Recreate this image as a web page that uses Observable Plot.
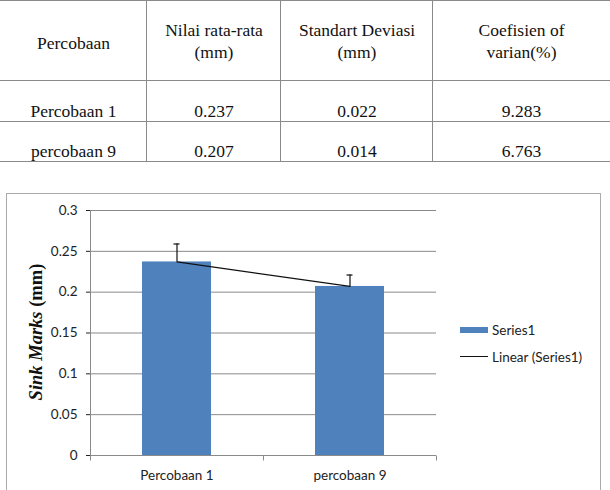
<!DOCTYPE html>
<html><head><meta charset="utf-8">
<script src="https://cdn.jsdelivr.net/npm/d3@7"></script>
<script src="https://cdn.jsdelivr.net/npm/@observablehq/plot@0.6"></script>
<style>
body{margin:0;background:#fff;width:610px;height:490px;overflow:hidden;position:relative;}
.hl{position:absolute;left:0;width:610px;height:0;border-top:1.5px solid #8a8a8a;}
.vl{position:absolute;height:0;width:0;border-left:1.5px solid #8a8a8a;}
.tt{position:absolute;font-family:"Liberation Serif",serif;font-size:17.5px;line-height:20px;height:20px;width:220px;text-align:center;white-space:nowrap;color:#111;}
#chartbox{position:absolute;left:6px;top:193px;width:595px;height:320px;border:1px solid #ababab;box-sizing:border-box;}
#plot{position:absolute;left:0;top:193px;}
#ylab{position:absolute;width:220px;height:20px;line-height:20px;text-align:center;font-family:"Liberation Serif",serif;font-weight:bold;font-size:18.5px;color:#111;transform:rotate(-90deg);white-space:nowrap;}
.lg{position:absolute;font-family:Lato,sans-serif;font-size:13.5px;color:#222;line-height:16px;white-space:nowrap;}
</style></head><body>
<script>
// ---- data ----
const tableHeader = [["Percobaan"], ["Nilai rata-rata", "(mm)"], ["Standart Deviasi", "(mm)"], ["Coefisien of", "varian(%)"]];
const trials = ["Percobaan 1", "percobaan 9"];
const means = [0.237, 0.207];
const stdevs = [0.022, 0.014];
const cvs = [9.283, 6.763];
const yTicks = [0, 0.05, 0.1, 0.15, 0.2, 0.25, 0.3];
const yTickLabels = ["0", "0.05", "0.1", "0.15", "0.2", "0.25", "0.3"];
const seriesName = "Series1";
const trendName = "Linear (Series1)";
const yTitleItalic = "Sink Marks";
const yTitleRest = " (mm)";

// ---- table (layout) ----
const colEdges = [0, 147, 281, 433, 610];
const rowLines = [0, 80, 121, 161];
const body = document.body;
function el(cls, css, txt) {
  const d = document.createElement("div");
  d.className = cls;
  Object.assign(d.style, css);
  if (txt != null) d.textContent = txt;
  body.appendChild(d);
  return d;
}
rowLines.forEach(y => el("hl", {top: y + "px"}));
colEdges.slice(1, -1).forEach(x => el("vl", {left: (x - 1) + "px", top: "1px", height: "161px"}));
function cell(text, cx, baseline) {
  el("tt", {left: (cx - 110) + "px", top: (baseline - 16) + "px"}, text);
}
tableHeader.forEach((lines, c) => {
  const cx = (colEdges[c] + colEdges[c + 1]) / 2;
  if (lines.length === 1) cell(lines[0], cx, 49);
  else { cell(lines[0], cx, 36); cell(lines[1], cx, 58); }
});
const rowBase = [116.5, 157];
trials.forEach((t, r) => {
  const vals = [t, means[r].toFixed(3), stdevs[r].toFixed(3), cvs[r].toFixed(3)];
  vals.forEach((v, c) => cell(v, (colEdges[c] + colEdges[c + 1]) / 2, rowBase[r]));
});

// ---- chart ----
el("", {}, null).id = "chartbox";
const data = trials.map((name, i) => ({name, i, mean: means[i], sd: stdevs[i]}));
// least-squares linear trend over category index
const n = data.length;
const mx = d3.mean(data, d => d.i), my = d3.mean(data, d => d.mean);
const slope = d3.sum(data, d => (d.i - mx) * (d.mean - my)) / d3.sum(data, d => (d.i - mx) ** 2);
const trend = data.map(d => ({name: d.name, v: my + slope * (d.i - mx)}));

const W = 610, H = 297, ML = 90, MR = 174, MT = 17, MB = 35;
const step = (W - ML - MR) / n;
const tickSym = {draw(ctx) { ctx.moveTo(0, 0); ctx.lineTo(0, 5); }};
const grey = "#8a8a8a";

const chart = Plot.plot({
  width: W, height: H,
  marginLeft: ML, marginRight: MR, marginTop: MT, marginBottom: MB,
  style: {background: "transparent", fontFamily: "Lato, sans-serif", fontSize: "13.5px", color: "#222"},
  x: {domain: trials, paddingInner: 0.6, paddingOuter: 0.3, tickSize: 0, tickPadding: 15, label: null},
  y: {domain: [0, 0.3], ticks: yTicks, tickFormat: v => yTickLabels[yTicks.indexOf(v)] ?? "", tickSize: 4, tickPadding: 9, label: null},
  marks: [
    Plot.ruleY(yTicks, {y: d => d, stroke: grey, strokeWidth: 1}),
    Plot.ruleX(data.slice(0, 1), {x: "name", dx: -step / 2, stroke: grey, strokeWidth: 1}),
    Plot.dot(data, {x: "name", y: 0, dx: -step / 2, symbol: tickSym, stroke: grey, strokeWidth: 1, r: 3}),
    Plot.dot(data.slice(-1), {x: "name", y: 0, dx: step / 2, symbol: tickSym, stroke: grey, strokeWidth: 1, r: 3}),
    Plot.barY(data, {x: "name", y: "mean", fill: "#4F81BD"}),
    Plot.ruleX(data, {x: "name", y1: "mean", y2: d => d.mean + d.sd, stroke: "#111", strokeWidth: 1.2}),
    Plot.tickY(data, {x: "name", y: d => d.mean + d.sd, stroke: "#111", strokeWidth: 1.2, insetLeft: 31.5, insetRight: 31.5}),
    Plot.line(trend, {x: "name", y: "v", stroke: "#111", strokeWidth: 1.2})
  ]
});
chart.id = "plot";
body.appendChild(chart);

// y-axis title
const yl = el("", {left: (36 - 110) + "px", top: (332 - 10) + "px"}, null);
yl.id = "ylab";
const it = document.createElement("i"); it.textContent = yTitleItalic;
yl.appendChild(it); yl.appendChild(document.createTextNode(yTitleRest));

// legend
el("", {position: "absolute", left: "460px", top: "327px", width: "28px", height: "6px", background: "#4F81BD"}, null);
el("lg", {left: "492px", top: "322px"}, seriesName);
el("", {position: "absolute", left: "460px", top: "356px", width: "28px", height: "1px", background: "#111"}, null);
el("lg", {left: "492px", top: "348.5px"}, trendName);
</script>
</body></html>
